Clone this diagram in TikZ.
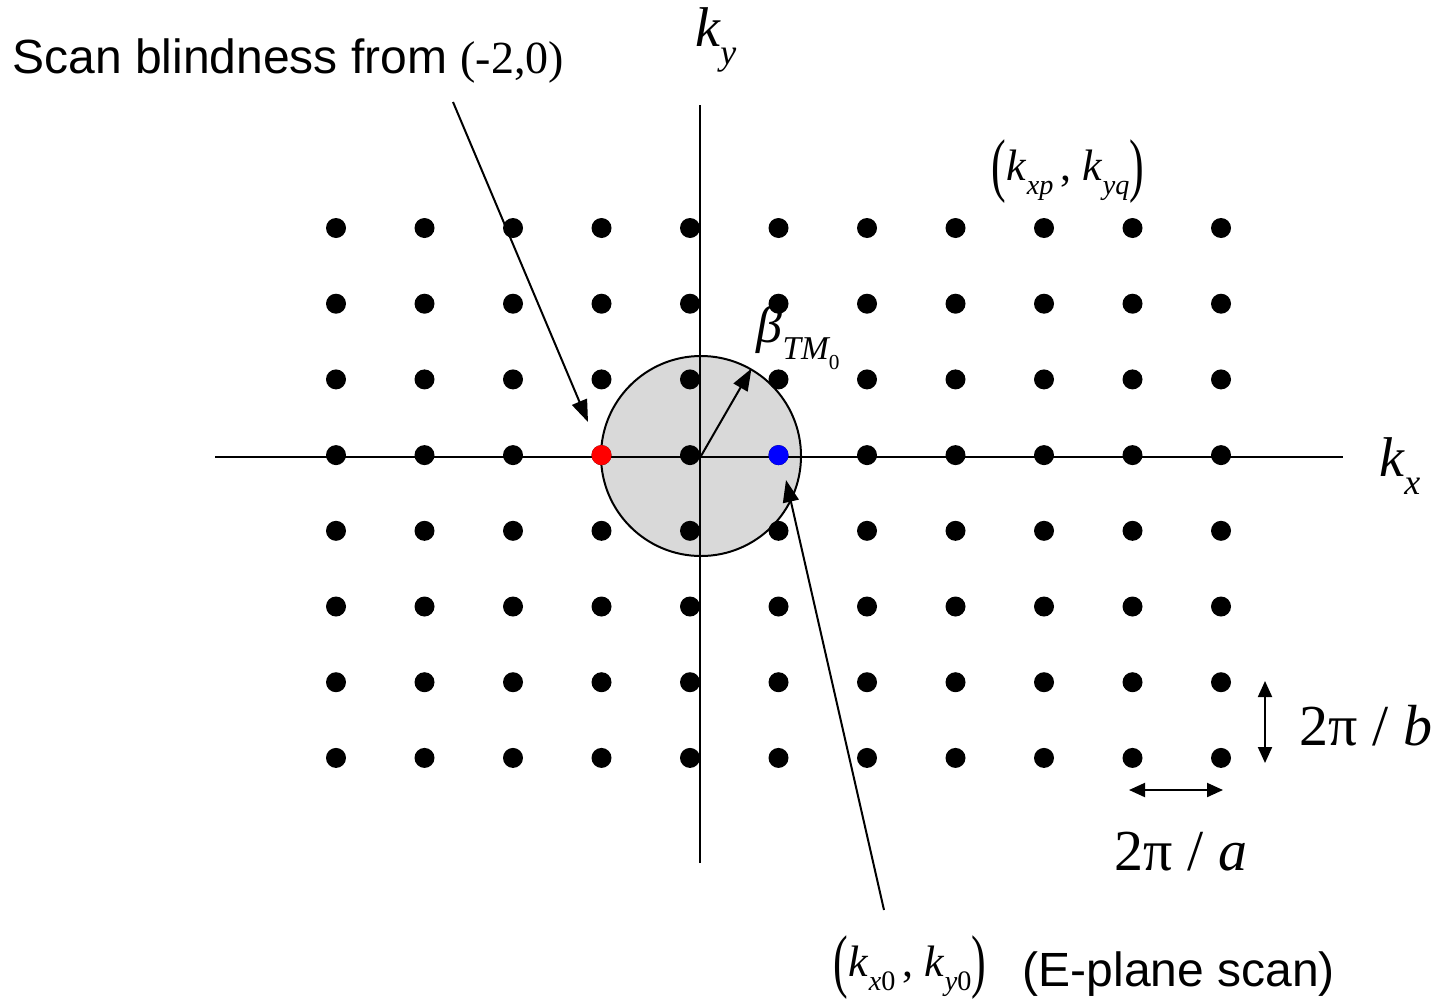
\documentclass[tikz,border=0pt]{standalone}
\usepackage{fontspec}
\setmainfont{Liberation Serif}
\setsansfont{Liberation Sans}
\usepackage{graphicx}
\usetikzlibrary{arrows.meta, positioning, calc}
\definecolor{discgray}{HTML}{D9D9D9}
\definecolor{scanred}{HTML}{FF0000}
\definecolor{scanblue}{HTML}{0000FF}
\newcommand{\lowsub}[1]{\raisebox{-0.32em}{\scalebox{0.64}{#1}}}
\newcommand{\kvec}[2]{\textit{k}\lowsub{\textit{#1}#2}}
\newcommand{\tallpar}[1]{\raisebox{-0.2em}{\scalebox{1}[1.6]{(}}#1\raisebox{-0.2em}{\scalebox{1}[1.6]{)}}}
\tikzset{
  % lattice points
  lattice/.style={circle, fill=#1, inner sep=0pt, minimum size=10pt},
  lattice/.default=black,
  % axes
  axisline/.style={line width=1pt},
  % arrows
  pointer/.style={-{Triangle[length=11pt,width=8pt]}, line width=1pt},
  spacing/.style={{Triangle[length=8pt,width=7pt]}-{Triangle[length=8pt,width=7pt]}, line width=1pt},
  % labels
  axislabel/.style={font=\fontsize{28}{32}\selectfont\itshape, inner sep=0pt},
  pairlabel/.style={font=\fontsize{22}{26}\selectfont, inner sep=0pt},
  steplabel/.style={font=\fontsize{29}{33}\selectfont, inner sep=0pt},
  textlabel/.style={font=\fontsize{24}{28}\selectfont\sffamily, inner sep=0pt},
}
\begin{document}
\begin{tikzpicture}[x=0.5pt, y=-0.5pt]
  \useasboundingbox (0,0) rectangle (1438,1001);

  % circle of radius beta
  \node[circle, draw, line width=1pt, fill=discgray, minimum size=100pt, inner sep=0pt] (disc) at (701,456) {};

  % axes
  \coordinate (xl) at (215,457);
  \coordinate (xr) at (1343,457);
  \coordinate (yb) at (700,863);
  \coordinate (yt) at (700,105);
  \draw[axisline] (xl) -- (xr);
  \draw[axisline] (yb) -- (yt);

  % Floquet lattice
  \foreach \i in {0,...,10}{
    \foreach \j in {0,...,7}{
      \node[lattice] (p-\i-\j) at ({336+88.5*\i},{228+75.7*\j}) {};
    }
  }
  \node[lattice=scanred] (red) at (p-3-3) {};
  \node[lattice=scanblue] (blue) at (p-5-3) {};

  % axis labels
  \node[axislabel] (ky) at (716,40) {k\lowsub{y}};
  \node[axislabel] (kx) at (1400,466) {k\lowsub{x}};

  % labels
  \node[textlabel, anchor=base west] (scan) at (12,73) {Scan blindness from {\rmfamily\fontsize{23}{27}\selectfont(-2,0)}};
  \node[pairlabel] (kpq) at (1068,172) {\tallpar{\kvec{xp}{}\,, \kvec{yq}{}}};
  \node[axislabel, font=\fontsize{26}{30}\selectfont\itshape] (beta) at (798,338) {β\lowsub{TM\lowsub{\upshape 0}}};
  \node[pairlabel] (k0) at (910,968) {\tallpar{\kvec{x}{0}\,, \kvec{y}{0}}};
  \node[textlabel, right=18pt of k0, yshift=-3pt] (eplane) {(E-plane scan)};

  % arrows
  \coordinate (sbtail) at (453,102);
  \coordinate (sbhead) at (588,422);
  \draw[pointer] (sbtail) -- (sbhead);
  \draw[pointer] (disc.center) -- (disc.60);
  \coordinate (e0tail) at (884,910);
  \coordinate (e0head) at (786,480);
  \draw[pointer] (e0tail) -- (e0head);

  % lattice spacing
  \coordinate (bt) at (1265,681);
  \coordinate (bb) at (1265,763);
  \draw[spacing] (bt) -- (bb);
  \node[steplabel] (bstep) at (1366,726) {2π / \textit{b}};
  \coordinate (al) at (1129,790);
  \coordinate (ar) at (1223,790);
  \draw[spacing] (al) -- (ar);
  \node[steplabel] (astep) at (1181,852) {2π / \textit{a}};
\end{tikzpicture}
\end{document}
